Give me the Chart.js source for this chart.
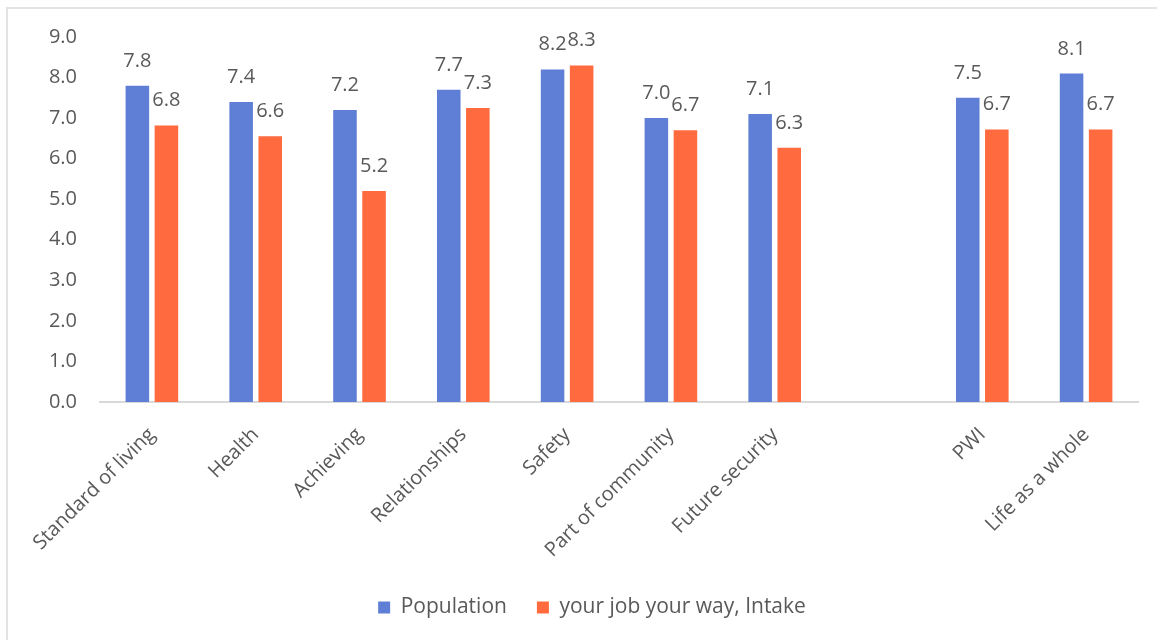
<!DOCTYPE html>
<html>
<head>
<meta charset="utf-8">
<script src="https://cdn.jsdelivr.net/npm/chart.js@4"></script>
<style>
  html, body { margin: 0; padding: 0; background: #fff; }
  #wrap { position: relative; width: 1157px; height: 640px; overflow: hidden; }
  #frame { position: absolute; left: 6px; top: 7px; width: 1200px; height: 700px;
           border-left: 2px solid #e3e3e3; border-top: 2px solid #e3e3e3; }
  #box { position: absolute; left: 0; top: 0; width: 1157px; height: 640px; }
</style>
</head>
<body>
<div id="wrap">
  <div id="frame"></div>
  <div id="box"><canvas id="chart"></canvas></div>
</div>
<script>
const categories = ['Standard of living', 'Health', 'Achieving', 'Relationships', 'Safety',
  'Part of community', 'Future security', '', 'PWI', 'Life as a whole'];
const population = [7.8, 7.4, 7.2, 7.7, 8.2, 7.0, 7.1, null, 7.5, 8.1];
const intake = [6.82, 6.55, 5.2, 7.25, 8.3, 6.7, 6.27, null, 6.72, 6.72];
const intakeLabels = ['6.8', '6.6', '5.2', '7.3', '8.3', '6.7', '6.3', '', '6.7', '6.7'];
const yTicks = [0, 1, 2, 3, 4, 5, 6, 7, 8, 9];

const FONT = "'Open Sans', sans-serif";
const GREY = '#595959';

// value labels above each bar
const barLabels = {
  id: 'barLabels',
  afterLayout(chart) {
    // legend sits a little right of centre in the original
    chart.legend.left += 23;
    chart.legend.right += 23;
  },
  afterDatasetsDraw(chart) {
    const ctx = chart.ctx;
    ctx.save();
    ctx.font = '20px ' + FONT;
    ctx.fillStyle = GREY;
    ctx.textAlign = 'center';
    ctx.textBaseline = 'alphabetic';
    chart.data.datasets.forEach((ds, i) => {
      chart.getDatasetMeta(i).data.forEach((bar, j) => {
        if (ds.data[j] == null) return;
        const txt = i === 0 ? ds.data[j].toFixed(1) : intakeLabels[j];
        ctx.fillText(txt, bar.x, bar.y - 19);
      });
    });
    ctx.restore();
  }
};

const ctx = document.getElementById('chart').getContext('2d');
new Chart(ctx, {
  type: 'bar',
  data: {
    labels: categories,
    datasets: [{
      label: 'Population',
      data: population,
      backgroundColor: '#5f7ed5'
    }, {
      label: 'your job your way, Intake',
      data: intake,
      backgroundColor: '#ff6a3e'
    }]
  },
  options: {
    responsive: true,
    maintainAspectRatio: false,
    animation: false,
    categoryPercentage: 0.56,
    barPercentage: 0.81,
    layout: { padding: { top: 37, right: 19, left: 0, bottom: 12 } },
    plugins: {
      legend: {
        position: 'bottom',
        labels: {
          color: GREY,
          font: { family: FONT, size: 21 },
          boxWidth: 12,
          boxHeight: 12,
          padding: 30
        }
      },
      tooltip: { enabled: false }
    },
    scales: {
      x: {
        grid: { display: false, drawTicks: false },
        border: { display: true, color: '#d9d9d9', width: 2 },
        ticks: {
          color: GREY,
          font: { family: FONT, size: 20 },
          minRotation: 45,
          maxRotation: 45,
          autoSkip: false,
          padding: 21
        },
        afterFit(scale) { scale.height = 165; }
      },
      y: {
        min: 0,
        max: 9,
        afterBuildTicks(scale) { scale.ticks = yTicks.map(v => ({ value: v })); },
        grid: { display: false, drawTicks: false },
        border: { display: false },
        ticks: {
          color: GREY,
          font: { family: FONT, size: 20 },
          padding: 23,
          callback: v => Number(v).toFixed(1)
        },
        afterFit(scale) { scale.width = 100; }
      }
    }
  },
  plugins: [barLabels]
});
</script>
</body>
</html>
